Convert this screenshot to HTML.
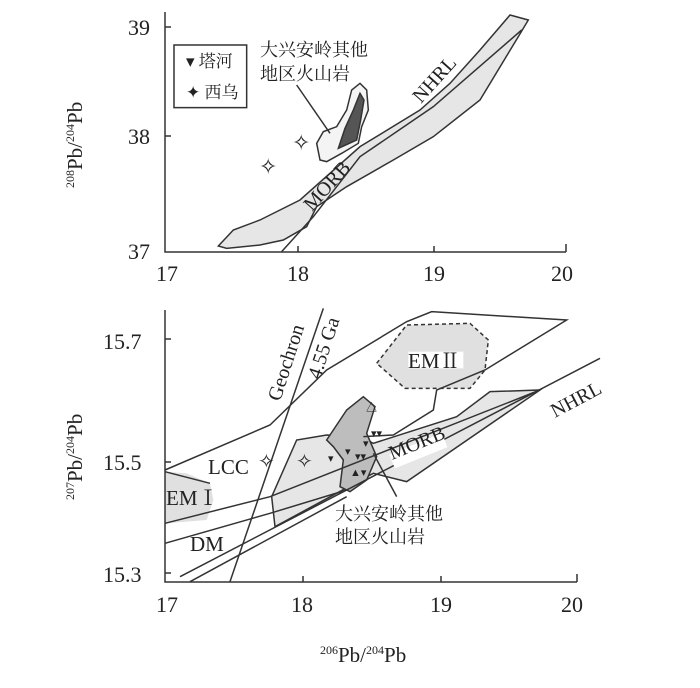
<!DOCTYPE html>
<html><head><meta charset="utf-8"><style>
html,body{margin:0;padding:0;background:#fff;}
svg{display:block}
text{font-family:"Liberation Serif","Noto Serif CJK SC",serif;fill:#222}
.z *{vector-effect:non-scaling-stroke}
</style></head><body>
<svg width="700" height="688" viewBox="0 0 700 688" xmlns="http://www.w3.org/2000/svg">
<rect width="700" height="688" fill="#fff"/>
<!-- TOP PLOT -->
<g class="z" transform="translate(160,0) scale(0.33333)" stroke="#333" stroke-width="1.5" fill="none">
<path d="M175,738 L220,690 L300,660 L420,600 L600,440 L780,330 L870,250 L960,150 L1050,45 L1105,60 L1075,110 L960,300 L820,410 L700,480 L560,560 L470,620 L440,680 L370,720 L300,735 L200,745 Z" fill="#e6e6e6"/>
<path d="M365,755 L460,650 L600,470 L820,320 L1085,90"/>
<path d="M480,480 L470,430 L490,395 L530,380 L560,330 L575,270 L600,250 L620,270 L625,330 L605,380 L595,430 L545,460 L500,485 Z" fill="#f4f4f4"/>
<path d="M535,445 L555,385 L580,330 L600,280 L612,300 L602,360 L590,420 Z" fill="#555"/>
<path d="M410,255 L510,400"/>
<rect x="42" y="135" width="218" height="188" fill="#fff"/>
</g>
<g stroke="#333" stroke-width="1.5" fill="none">
<path d="M165,12 V252 H566"/>
<path d="M165,27 H171 M165,136 H171 M298,252 V246 M434,252 V246 M566,252 V244"/>
</g>
<text x="128" y="35" font-size="22">39</text>
<text x="128" y="144" font-size="22">38</text>
<text x="128" y="259" font-size="22">37</text>
<text x="156" y="281" font-size="22">17</text>
<text x="287" y="281" font-size="22">18</text>
<text x="423" y="281" font-size="22">19</text>
<text x="551" y="281" font-size="22">20</text>
<text transform="translate(82,188) rotate(-90)" font-size="21"><tspan font-size="12" dy="-8">208</tspan><tspan dy="8">Pb/</tspan><tspan font-size="12" dy="-8">204</tspan><tspan dy="8">Pb</tspan></text>
<text x="186" y="67" font-size="17">▾ 塔河</text>
<text x="186" y="98" font-size="17">✦ 西乌</text>
<text x="260" y="56" font-size="18" font-family="Noto Sans CJK SC,sans-serif">大兴安岭其他</text>
<text x="260" y="80" font-size="18" font-family="Noto Sans CJK SC,sans-serif">地区火山岩</text>
<text x="259" y="174" font-size="22">✧</text>
<text x="292" y="150" font-size="22">✧</text>
<text transform="translate(312,212) rotate(-48)" font-size="20">MORB</text>
<text transform="translate(421,104) rotate(-48)" font-size="20">NHRL</text>
<!-- BOTTOM PLOT -->
<g class="z" transform="translate(160,300) scale(0.33333)" stroke="#333" stroke-width="1.5" fill="none">
<path d="M15,515 L80,520 L150,550 L160,600 L140,660 L15,670 Z" fill="#e0e0e0" stroke="none"/>
<path d="M335,590 L410,420 L500,405 L600,410 L640,430 L890,350 L990,275 L1140,270 L740,545 L640,520 L345,680 Z" fill="#e6e6e6"/>
<path d="M500,420 L560,330 L610,290 L645,320 L620,400 L650,470 L620,540 L570,575 L540,560 L550,480 L520,440 Z" fill="#bdbdbd"/>
<path d="M650,190 L740,75 L930,70 L985,120 L975,210 L930,265 L735,265 Z" fill="#e0e0e0" stroke-dasharray="4,3"/>
<rect x="745" y="155" width="165" height="50" fill="#fff" stroke="none"/>
<path d="M15,510 L330,375 L500,210 L740,65 L815,35 L1220,60 L975,210 L830,270 L820,330 L700,405 L610,410"/>
<path d="M15,670 L330,590 L1140,270"/>
<path d="M15,730 L330,640 L560,570"/>
<path d="M60,830 L1320,175"/>
<path d="M90,845 L560,590"/>
<path d="M15,515 L150,550"/>
<path d="M210,845 L490,25"/>
<path d="M640,460 L710,590"/>
<rect x="690" y="430" width="170" height="45" fill="#fff" stroke="none" transform="rotate(-22 775 452)"/>
</g>
<g stroke="#333" stroke-width="1.5" fill="none">
<path d="M165,310 V582 H577"/>
<path d="M165,339 H171 M165,462 H171 M165,573 H171 M303,582 V576 M441,582 V576 M577,582 V574"/>
</g>
<g fill="#333" font-size="11"><text x="345" y="455">▾</text><text x="355" y="460">▾▾</text><text x="363" y="447">▾</text><text x="371" y="437">▾▾</text><text x="366" y="411">△</text><text x="350" y="476">▲▾</text><text x="328" y="462">▾</text></g>
<text x="103" y="349" font-size="22">15.7</text>
<text x="103" y="470" font-size="22">15.5</text>
<text x="103" y="582" font-size="22">15.3</text>
<text x="156" y="612" font-size="22">17</text>
<text x="291" y="612" font-size="22">18</text>
<text x="430" y="612" font-size="22">19</text>
<text x="561" y="612" font-size="22">20</text>
<text x="320" y="662" font-size="21"><tspan font-size="12" dy="-8">206</tspan><tspan dy="8">Pb/</tspan><tspan font-size="12" dy="-8">204</tspan><tspan dy="8">Pb</tspan></text>
<text transform="translate(82,500) rotate(-90)" font-size="21"><tspan font-size="12" dy="-8">207</tspan><tspan dy="8">Pb/</tspan><tspan font-size="12" dy="-8">204</tspan><tspan dy="8">Pb</tspan></text>
<text x="408" y="368" font-size="21">EMⅡ</text>
<text x="166" y="505" font-size="21">EMⅠ</text>
<text x="208" y="474" font-size="21">LCC</text>
<text x="190" y="551" font-size="21">DM</text>
<text x="258" y="468" font-size="20">✧</text>
<text x="296" y="468" font-size="20">✧</text>
<text transform="translate(280,402) rotate(-72)" font-size="20">Geochron</text>
<text transform="translate(320,380) rotate(-72)" font-size="20">4.55 Ga</text>
<text transform="translate(392,460) rotate(-22)" font-size="20">MORB</text>
<text transform="translate(555,418) rotate(-28)" font-size="20">NHRL</text>
<text x="335" y="520" font-size="18" font-family="Noto Sans CJK SC,sans-serif">大兴安岭其他</text>
<text x="335" y="543" font-size="18" font-family="Noto Sans CJK SC,sans-serif">地区火山岩</text>
</svg>
</body></html>
